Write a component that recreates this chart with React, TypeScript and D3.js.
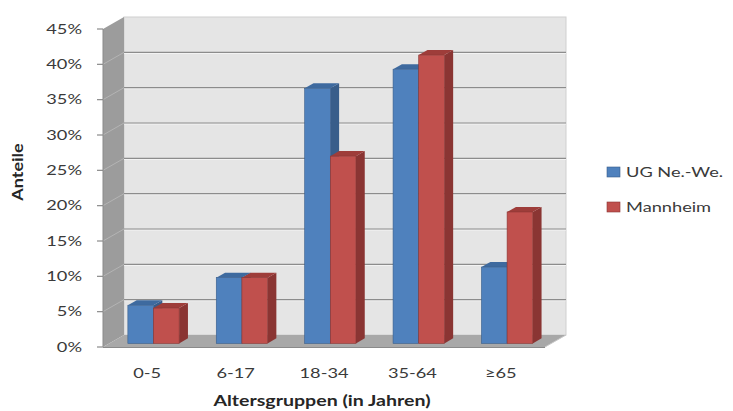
import React from "react";
import * as d3 from "d3";

const categories = ["0-5", "6-17", "18-34", "35-64", "≥65"];
const seriesNames = ["UG Ne.-We.", "Mannheim"];
const ugValues = [5.4, 9.3, 36.1, 38.8, 10.8];
const mannheimValues = [5.0, 9.3, 26.5, 40.8, 18.6];
const yTicks = [0, 5, 10, 15, 20, 25, 30, 35, 40, 45];

const frontColors = ["#4F81BD", "#C0504D"];
const sideColors = ["#385D8A", "#8A3533"];
const topColors = ["#3E6A9F", "#9E3D3A"];

const W = 733, H = 411;
const X0 = 103, X1 = 545;
const DX = 21, DY = -12; // full depth
const font = "Lato, 'Open Sans', sans-serif";
const SX = 1.35; // horizontal stretch of text as in the reference

function SText(props: {
  x: number; y: number; anchor?: string; size: number; bold?: boolean; children: React.ReactNode; rotate?: number; sx?: number;
}) {
  const { x, y, anchor = "start", size, bold, children, rotate = 0, sx = SX } = props;
  return (
    <text
      transform={`translate(${x},${y}) rotate(${rotate}) scale(${sx},1)`}
      textAnchor={anchor}
      dy="0.35em"
      fontFamily={font}
      fontSize={size}
      fontWeight={bold ? "bold" : "normal"}
      fill={bold ? "#262626" : "#3a3a3a"}
    >
      {children}
    </text>
  );
}

export default function App() {
  const y = d3.scaleLinear().domain([0, 45]).range([347, 29]);
  const x = d3.scaleBand<string>().domain(categories).range([X0, X1]).paddingInner(0.42).paddingOuter(0.21);
  const xs = d3.scaleBand<string>().domain(seriesNames).range([0, x.bandwidth()]);
  const seriesVals = [ugValues, mannheimValues];

  const f0 = 0.3, f1 = 0.72;
  const bdx = DX * (f1 - f0), bdy = DY * (f1 - f0);
  const ox = DX * f0, oy = DY * f0;

  const wallTop = y(45) + DY;
  const wallBottom = y(0) + DY;

  const bars: React.ReactNode[] = [];
  categories.forEach((c, i) => {
    seriesNames.forEach((s, k) => {
      const v = seriesVals[k][i];
      const xl = (x(c) as number) + (xs(s) as number) + ox;
      const w = xs.bandwidth();
      const yt = y(v) + oy;
      const yb = y(0) + oy;
      const xr = xl + w;
      bars.push(
        <g key={c + s}>
          <polygon
            points={`${xr},${yt} ${xr + bdx},${yt + bdy} ${xr + bdx},${yb + bdy} ${xr},${yb}`}
            fill={sideColors[k]}
          />
          <polygon
            points={`${xl},${yt} ${xl + bdx},${yt + bdy} ${xr + bdx},${yt + bdy} ${xr},${yt}`}
            fill={topColors[k]}
          />
          <rect x={xl} y={yt} width={w} height={yb - yt} fill={frontColors[k]} stroke={sideColors[k]} strokeWidth={0.6} />
        </g>
      );
    });
  });

  return (
    <div style={{ position: "absolute", left: 0, top: 0 }}>
      <svg width={W} height={H} style={{ display: "block", background: "#fff" }}>
        <rect x={X0 + DX} y={wallTop} width={X1 - X0} height={wallBottom - wallTop} fill="#E5E5E5" stroke="#cfcfcf" strokeWidth={1} />
        {yTicks.slice(1, -1).map((t) => (
          <g key={"g" + t}>
            <line x1={X0 + DX} x2={X1 + DX} y1={y(t) + DY + 1} y2={y(t) + DY + 1} stroke="#f6f6f6" strokeWidth={1} />
            <line x1={X0 + DX} x2={X1 + DX} y1={y(t) + DY} y2={y(t) + DY} stroke="#8c8c8c" strokeWidth={1.2} />
          </g>
        ))}
        <polygon
          points={`${X0},${y(0)} ${X0},${y(45)} ${X0 + DX},${wallTop} ${X0 + DX},${wallBottom}`}
          fill="#9C9C9C"
        />
        {yTicks.slice(1, -1).map((t) => (
          <line key={"s" + t} x1={X0} y1={y(t)} x2={X0 + DX} y2={y(t) + DY} stroke="#b4b4b4" strokeWidth={1} />
        ))}
        <polygon
          points={`${X0},${y(0)} ${X1},${y(0)} ${X1 + DX},${wallBottom} ${X0 + DX},${wallBottom}`}
          fill="#A8A8A8"
        />
        <line x1={X0} x2={X1} y1={y(0) + 0.5} y2={y(0) + 0.5} stroke="#8a8a8a" strokeWidth={1.2} />
        <line x1={X1} y1={y(0)} x2={X1 + DX} y2={wallBottom} stroke="#c8c8c8" strokeWidth={1} />
        <line x1={X0} x2={X0} y1={y(45)} y2={y(0)} stroke="#8a8a8a" strokeWidth={1} />
        {yTicks.map((t) => (
          <g key={"t" + t}>
            <line x1={X0 - 6} x2={X0} y1={y(t)} y2={y(t)} stroke="#8a8a8a" strokeWidth={1.2} />
            <SText x={82} y={y(t)} anchor="end" size={13.5}>{t}%</SText>
          </g>
        ))}
        {bars}
        {categories.map((c) => (
          <SText key={"x" + c} x={(x(c) as number) + x.bandwidth() / 2} y={373} anchor="middle" size={13.5}>
            {c}
          </SText>
        ))}
        <SText x={322} y={401} anchor="middle" size={14.5} bold>
          Altersgruppen (in Jahren)
        </SText>
        <SText x={18} y={172} anchor="middle" size={15} bold rotate={-90} sx={1.2}>
          Anteile
        </SText>
        {seriesNames.map((s, k) => (
          <g key={"l" + s}>
            <rect x={607} y={167 + k * 35} width={13} height={10} fill={frontColors[k]} stroke={sideColors[k]} strokeWidth={0.6} />
            <SText x={626} y={172 + k * 35} size={13.5}>{s}</SText>
          </g>
        ))}
      </svg>
    </div>
  );
}
